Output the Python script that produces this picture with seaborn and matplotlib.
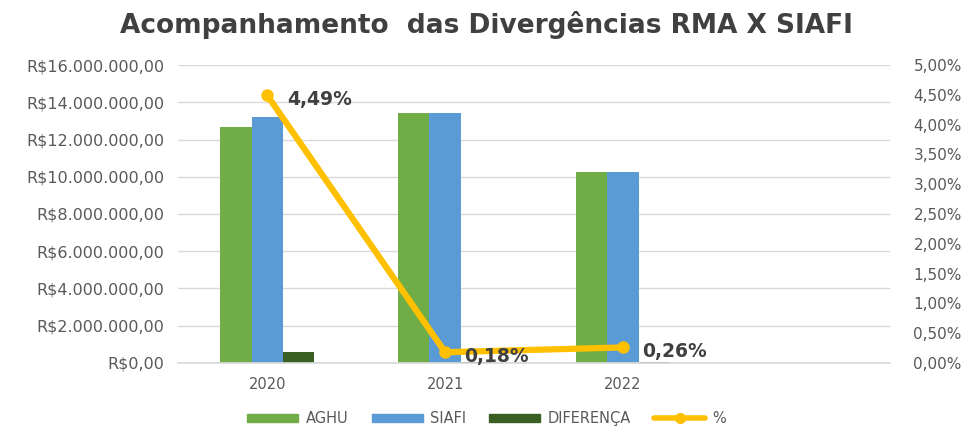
import matplotlib
matplotlib.use('Agg')
import matplotlib.pyplot as plt
import matplotlib.ticker as mticker
from matplotlib.lines import Line2D
from matplotlib.patches import Patch
import pandas as pd
import seaborn as sns

# dados
anos = ['2020', '2021', '2022']
aghu = [12.65e6, 13.42e6, 10.28e6]
siafi = [13.22e6, 13.42e6, 10.28e6]
diferenca = [0.57e6, 0.024e6, 0.027e6]
pct = [4.49, 0.18, 0.26]
pct_labels = ['4,49%', '0,18%', '0,26%']

series = ['AGHU', 'SIAFI', 'DIFERENÇA']
cores = {'AGHU': '#70AD47', 'SIAFI': '#5B9BD5', 'DIFERENÇA': '#3A5F22'}
cor_linha = '#FFC000'
cor_texto = '#595959'

df = pd.DataFrame({
    'ano': anos * 3,
    'serie': [s for s in series for _ in anos],
    'valor': aghu + siafi + diferenca,
})

sns.set_theme(style='white')
plt.rcParams['font.family'] = ['DejaVu Sans']

fig = plt.figure(figsize=(9.64, 4.28), dpi=100)
ax = fig.add_axes([0.185, 0.152, 0.738, 0.696])

ordem = anos + [' ']
sns.barplot(data=df, x='ano', y='valor', hue='serie', order=ordem, hue_order=series,
            palette=cores, width=0.53, saturation=1, linewidth=0, ax=ax, legend=False)

ax.set_xlim(-0.5, 3.5)
ax.set_ylim(0, 16e6)
ax.yaxis.set_major_locator(mticker.MultipleLocator(2e6))
ax.yaxis.set_major_formatter(mticker.FuncFormatter(
    lambda v, _: 'R$' + f'{v:,.2f}'.replace(',', 'X').replace('.', ',').replace('X', '.')))
ax.grid(axis='y', color='#D9D9D9', linewidth=1)
ax.set_axisbelow(True)
for s in ax.spines.values():
    s.set_visible(False)
ax.spines['bottom'].set_visible(True)
ax.spines['bottom'].set_color('#D9D9D9')
ax.tick_params(axis='y', length=0, labelsize=11.5, colors=cor_texto, pad=10)
ax.tick_params(axis='x', length=0, labelsize=10.5, colors=cor_texto, pad=10)
ax.set_xlabel('')
ax.set_ylabel('')

ax2 = ax.twinx()
sns.lineplot(x=[0, 1, 2], y=pct, ax=ax2, color=cor_linha, linewidth=4.5,
             marker='o', markersize=9, markeredgewidth=0)
ax2.set_ylim(0, 5)
ax2.yaxis.set_major_locator(mticker.MultipleLocator(0.5))
ax2.yaxis.set_major_formatter(mticker.FuncFormatter(
    lambda v, _: f'{v:.2f}%'.replace('.', ',')))
for s in ax2.spines.values():
    s.set_visible(False)
ax2.tick_params(axis='y', length=0, labelsize=11, colors=cor_texto, pad=17)
ax2.set_ylabel('')

for i, (v, lab) in enumerate(zip(pct, pct_labels)):
    ax2.annotate(lab, (i, v), xytext=(14, -3), textcoords='offset points',
                 ha='left', va='center', fontsize=13.5, fontweight='bold', color='#404040')

fig.suptitle('Acompanhamento  das Divergências RMA X SIAFI', x=0.505, y=0.975,
             fontsize=19, fontweight='bold', color='#404040')

handles = [Patch(color=cores[s]) for s in series]
handles.append(Line2D([], [], color=cor_linha, linewidth=4, marker='o', markersize=7))
leg = fig.legend(handles, series + ['%'], loc='center', bbox_to_anchor=(0.505, 0.022),
                 ncol=4, frameon=False, fontsize=10.5, handlelength=3.5, columnspacing=1.6,
                 handletextpad=0.5, handleheight=0.5)
for t in leg.get_texts():
    t.set_color(cor_texto)

fig.savefig('out.png', dpi=100)
